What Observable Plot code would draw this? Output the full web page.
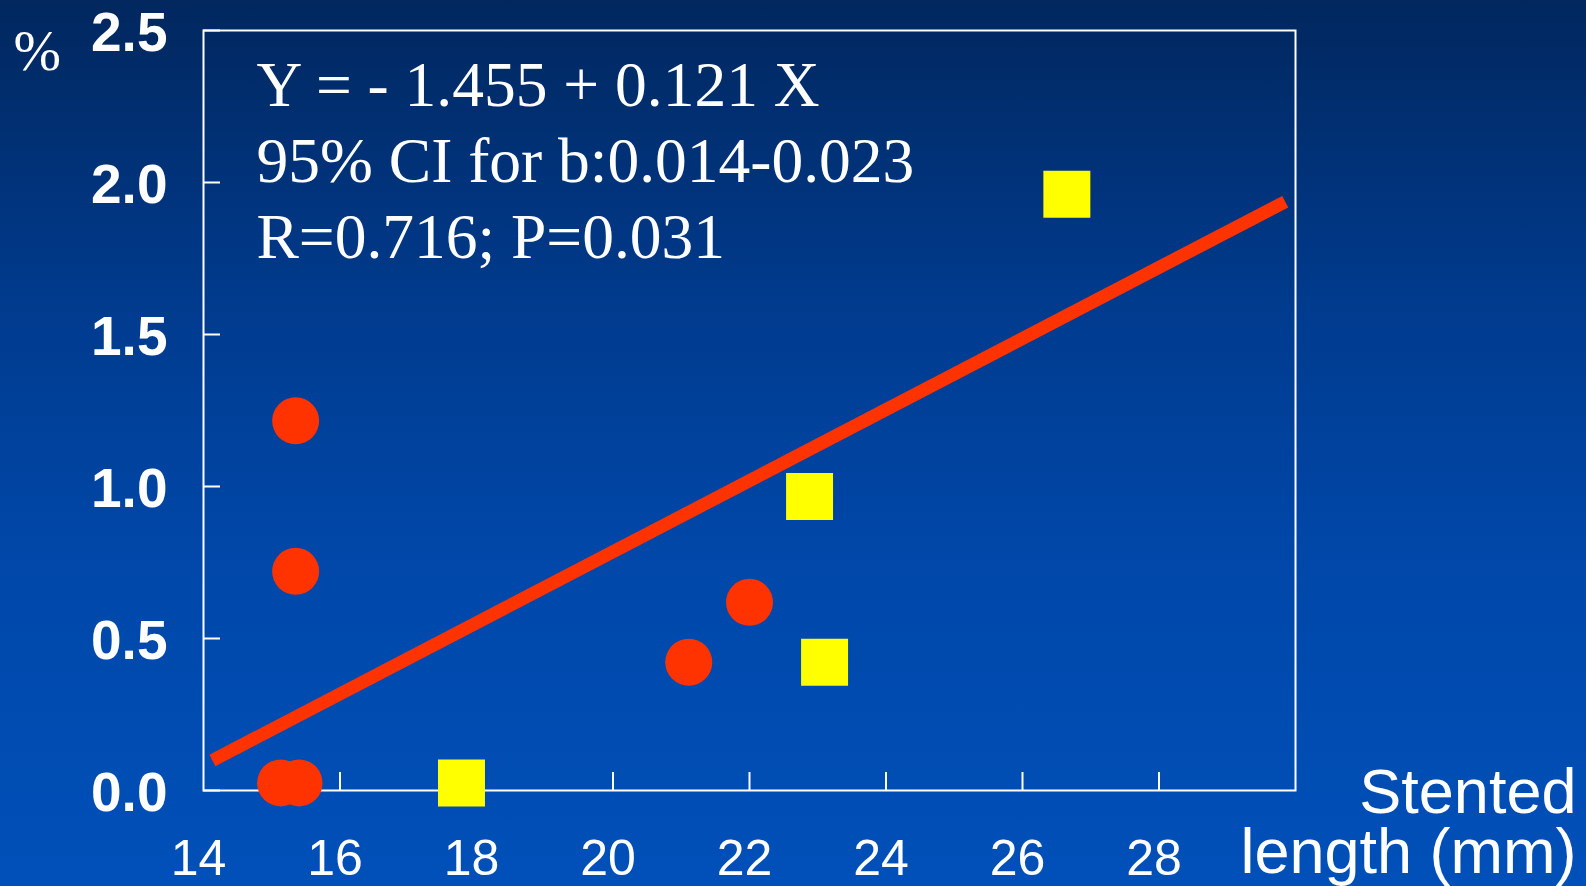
<!DOCTYPE html>
<html><head><meta charset="utf-8">
<script src="https://cdn.jsdelivr.net/npm/d3@7"></script>
<script src="https://cdn.jsdelivr.net/npm/@observablehq/plot@0.6"></script>
<style>
html,body{margin:0;padding:0;width:1586px;height:886px;overflow:hidden;
background:linear-gradient(to bottom,#01275e 0%,#003b8e 35%,#0047a8 62%,#0050b9 100%);}
#chart svg{display:block;background:transparent;}
</style></head><body><div id="chart"></div>
<script>
// Data
const circleX = [15.35, 15.35, 15.13, 15.40, 21.11, 22.00];
const circleY = [1.216, 0.721, 0.025, 0.025, 0.422, 0.619];
const squareX = [17.78, 22.88, 23.10, 26.65];
const squareY = [0.025, 0.967, 0.422, 1.961];
const fitX = [14.13, 29.85];
const fitY = [0.099, 1.937];
const xTickLabels = [14, 16, 18, 20, 22, 24, 26, 28];
const xTickMarks = [16, 18, 20, 22, 24, 26, 28];
const yTicks = [0, 0.5, 1.0, 1.5, 2.0, 2.5];
const yTickLabels = ["0.0", "0.5", "1.0", "1.5", "2.0", "2.5"];
const annotationLines = ["Y = - 1.455 + 0.121 X", "95% CI for b:0.014-0.023", "R=0.716; P=0.031"];
const yLabel = "%";
const xLabelLines = ["Stented", "length (mm)"];

const circles = circleX.map((x, i) => ({x, y: circleY[i]}));
const squares = squareX.map((x, i) => ({x, y: squareY[i]}));
const fit = fitX.map((x, i) => ({x, y: fitY[i]}));

const sans = "'Liberation Sans', Arial, Helvetica, sans-serif";
const serif = "'Liberation Serif', 'Times New Roman', serif";

const chart = Plot.plot({
  width: 1586,
  height: 886,
  marginLeft: 203,
  marginRight: 291,
  marginTop: 30,
  marginBottom: 96,
  style: {background: "transparent", color: "white", overflow: "visible"},
  x: {domain: [14, 30]},
  y: {domain: [0, 2.5]},
  marks: [
    Plot.axisY(yTicks, {tickSize: -17, text: null, label: null, color: "white", strokeWidth: 2}),
    Plot.axisY(yTicks, {tickSize: 0, tickPadding: 36, tickFormat: (d) => yTickLabels[yTicks.indexOf(d)], label: null,
      color: "white", fontSize: 55, fontWeight: "bold", fontFamily: sans, dy: 3}),
    Plot.axisX(xTickMarks, {tickSize: -18, text: null, label: null, color: "white", strokeWidth: 2}),
    Plot.axisX(xTickLabels, {tickSize: 0, tickPadding: 49, label: null, color: "white",
      fontSize: 50, fontFamily: sans, dx: -5}),
    Plot.frame({stroke: "white", strokeWidth: 2}),
    Plot.line(fit, {x: "x", y: "y", stroke: "#ff3300", strokeWidth: 13, strokeLinecap: "butt"}),
    Plot.dot(circles, {x: "x", y: "y", r: 23.5, fill: "#ff3300", symbol: "circle"}),
    Plot.dot(squares, {x: "x", y: "y", r: 26.5, fill: "#ffff00", symbol: "square"}),
    Plot.text([annotationLines.join("\n")], {text: d => d, frameAnchor: "top-left", textAnchor: "start", lineAnchor: "top",
      dx: 53, dy: 21, fontSize: 63.5, lineHeight: 1.2, fontFamily: serif, fill: "white"}),
    Plot.text([yLabel], {text: d => d, frameAnchor: "top-left", textAnchor: "start", lineAnchor: "bottom",
      dx: -190, dy: 39, fontSize: 57, fontFamily: serif, fill: "white"}),
    Plot.text([xLabelLines[0]], {text: d => d, frameAnchor: "bottom-right", textAnchor: "end", lineAnchor: "bottom",
      dx: 281, dy: 22, fontSize: 63, fontFamily: sans, fill: "white"}),
    Plot.text([xLabelLines[1]], {text: d => d, frameAnchor: "bottom-right", textAnchor: "end", lineAnchor: "bottom",
      dx: 281, dy: 82, fontSize: 63, fontFamily: sans, fill: "white"})
  ]
});
document.getElementById("chart").appendChild(chart);
</script></body></html>
